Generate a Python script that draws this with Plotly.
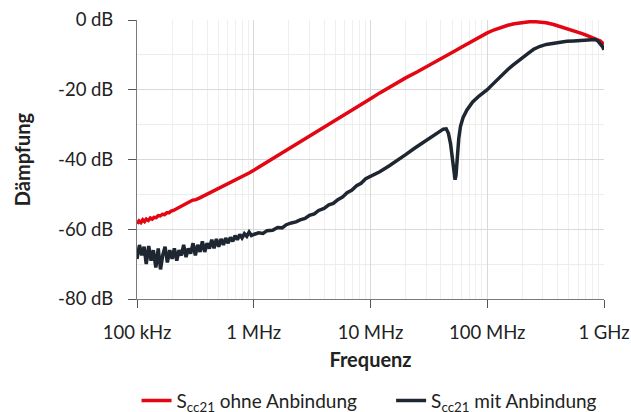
import plotly.graph_objects as go

# ---------------- data ----------------
# S_cc21 ohne Anbindung (red) : frequency in kHz, attenuation in dB
red_f_khz = [100, 104, 108, 112, 116, 120, 125, 130, 135, 140, 146, 152, 158, 165, 172, 180, 188, 196,
             205, 215, 225, 236, 248, 260, 275, 290, 305, 320, 345, 370, 400, 430, 460, 500, 540, 580,
             630, 680, 730, 790, 850, 920, 1000, 1200, 1500, 2000, 2500, 3000, 4000, 5000, 6000, 7000,
             8000, 10000, 12000, 15000, 20000, 25000, 30000, 35000, 40000, 50000, 60000, 70000, 80000,
             90000, 100000, 115000, 130000, 150000, 170000, 190000, 210000, 230000, 250000, 280000,
             320000, 370000, 420000, 500000, 580000, 650000, 720000, 790000, 870000, 930000, 1000000]
red_db = [-58.4, -57.6, -58.1, -57.3, -57.8, -57.1, -57.5, -56.8, -57.1, -56.6, -56.7, -56.1, -56.2,
          -55.7, -55.8, -55.3, -55.3, -54.8, -54.6, -54.2, -53.9, -53.5, -53.0, -52.7, -52.3, -51.9,
          -51.6, -51.5, -51.0, -50.5, -49.9, -49.4, -48.9, -48.3, -47.7, -47.2, -46.6, -46.0, -45.5,
          -44.9, -44.3, -43.8, -43.1, -41.5, -39.5, -37.0, -35.0, -33.4, -30.9, -28.9, -27.3, -25.9,
          -24.7, -22.6, -20.9, -18.9, -16.6, -14.9, -13.5, -12.3, -11.1, -9.3, -7.8, -6.5, -5.4,
          -4.5, -3.7, -2.8, -2.1, -1.5, -1.1, -0.8, -0.6, -0.5, -0.45, -0.5, -0.8, -1.3, -1.9, -2.5,
          -3.2, -3.9, -4.5, -5.0, -5.5, -6.0, -7.0]

# S_cc21 mit Anbindung (dark) : frequency in kHz, attenuation in dB
dark_f_khz = [100, 105, 110, 115, 120, 126, 132, 138, 145, 152, 159, 166, 174, 182, 191, 200, 209, 219,
              229, 240, 251, 263, 275, 288, 302, 316, 331, 347, 363, 380, 398, 417, 437, 457, 479, 501,
              525, 550, 575, 603, 631, 661, 692, 724, 759, 794, 832, 871, 912, 955, 1000, 1100, 1200,
              1300, 1450, 1600, 1750, 1900, 2100, 2300, 2500, 2750, 3000, 3300, 3600, 4000, 4400, 4800,
              5250, 5750, 6300, 6900, 7600, 8300, 9100, 10000, 12000, 14500, 17000, 20000, 24000, 28000,
              33000, 38000, 42000, 44500, 46500, 48500, 50500, 52000, 53000, 54000, 55500, 57000, 59000,
              62000, 67000, 75000, 85000, 100000, 110000, 120000, 135000, 150000, 165000, 180000, 195000,
              210000, 230000, 250000, 280000, 320000, 370000, 420000, 480000, 550000, 620000, 700000,
              780000, 840000, 880000, 930000, 970000, 1000000]
dark_db = [-68.5, -64.5, -67.5, -65.0, -70.0, -64.8, -69.0, -66.0, -71.0, -65.5, -71.5, -67.5, -65.0,
           -69.5, -66.0, -68.5, -65.5, -69.0, -66.0, -67.5, -64.5, -68.0, -65.5, -67.0, -64.0, -67.5,
           -64.5, -66.5, -63.5, -66.5, -64.0, -65.5, -63.0, -65.5, -62.8, -65.0, -62.8, -64.5, -62.5,
           -64.0, -62.3, -63.5, -61.8, -63.0, -61.5, -62.5, -61.3, -62.0, -60.8, -61.8, -61.5, -61.0,
           -61.2, -60.4, -60.3, -59.5, -59.6, -58.7, -58.2, -57.9, -57.3, -56.9, -56.0, -55.6, -54.6,
           -54.0, -53.0, -52.6, -51.5, -50.8, -49.5, -48.8, -47.5, -46.8, -45.5, -44.8, -43.5, -41.8,
           -40.3, -38.6, -36.7, -35.2, -33.6, -32.2, -31.3, -31.2, -32.5, -35.5, -40.0, -44.0, -45.8,
           -44.5, -39.0, -34.0, -30.5, -28.0, -25.8, -23.5, -21.8, -20.0, -18.6, -17.3, -15.7, -14.2,
           -13.0, -12.1, -11.3, -10.4, -9.3, -8.4, -7.6, -7.0, -6.6, -6.3, -6.1, -6.0, -5.9, -5.8,
           -5.6, -5.6, -5.9, -6.8, -7.6, -8.5]

x_tickvals = [1e5, 1e6, 1e7, 1e8, 1e9]
x_ticktext = ["100 kHz", "1 MHz", "10 MHz", "100 MHz", "1 GHz"]
x_minorvals = [m * 10 ** e for e in range(5, 9) for m in range(2, 10)]
y_tickvals = [0, -20, -40, -60, -80]
y_ticktext = ["0 dB", "-20 dB", "-40 dB", "-60 dB", "-80 dB"]

series_names = ["S<sub>cc21</sub> ohne Anbindung", "S<sub>cc21</sub> mit Anbindung"]
NBSP_PAD = "\u00a0" * 6
RED = "#e30613"
DARK = "#1e2731"
FONT = "Lato"
TXT = "#222222"

fig = go.Figure()
fig.add_trace(go.Scatter(x=[f * 1e3 for f in red_f_khz], y=red_db, mode="lines",
                         name=series_names[0] + NBSP_PAD, line=dict(color=RED, width=3.5)))
fig.add_trace(go.Scatter(x=[f * 1e3 for f in dark_f_khz], y=dark_db, mode="lines",
                         name=series_names[1], line=dict(color=DARK, width=3.5)))

fig.update_layout(
    width=631, height=412,
    margin=dict(l=137, r=27, t=20, b=113, autoexpand=False),
    paper_bgcolor="white", plot_bgcolor="white",
    font=dict(family=FONT, size=18.5, color=TXT),
    showlegend=True,
    legend=dict(orientation="h", x=-0.001, xanchor="left", y=-0.296, yanchor="top",
                font=dict(family=FONT, size=19, color=TXT),
                itemwidth=30, bgcolor="rgba(0,0,0,0)"),
)

fig.update_xaxes(
    type="log", range=[5, 9], automargin=False,
    tickmode="array", tickvals=x_tickvals, ticktext=x_ticktext,
    ticks="outside", ticklen=8, tickcolor="#555555", tickwidth=1,
    showline=True, linecolor="#7a7a7a", linewidth=1,
    showgrid=True, gridcolor="#d9d9d9", gridwidth=1,
    minor=dict(tickmode="array", tickvals=x_minorvals, showgrid=True,
               gridcolor="#efefef", gridwidth=1, ticks=""),
    ticklabelstandoff=9,
    title=dict(text="<b>Frequenz</b>", font=dict(family=FONT, size=20, color=TXT), standoff=10),
    zeroline=False,
)
fig.update_yaxes(
    range=[-80, 0], automargin=False,
    tickmode="array", tickvals=y_tickvals, ticktext=y_ticktext,
    ticks="outside", ticklen=8, tickcolor="#555555", tickwidth=1,
    showline=True, linecolor="#7a7a7a", linewidth=1,
    showgrid=True, gridcolor="#d9d9d9", gridwidth=1,
    minor=dict(dtick=10, showgrid=True, gridcolor="#ececec", gridwidth=1, ticks=""),
    ticklabelstandoff=11,
    title=dict(text="<b>Dämpfung</b>", font=dict(family=FONT, size=20, color=TXT), standoff=22),
    zeroline=False,
)

fig.write_html("out.html", config={"displayModeBar": False},
               post_script="document.body.style.margin='0';document.body.style.padding='0';")
